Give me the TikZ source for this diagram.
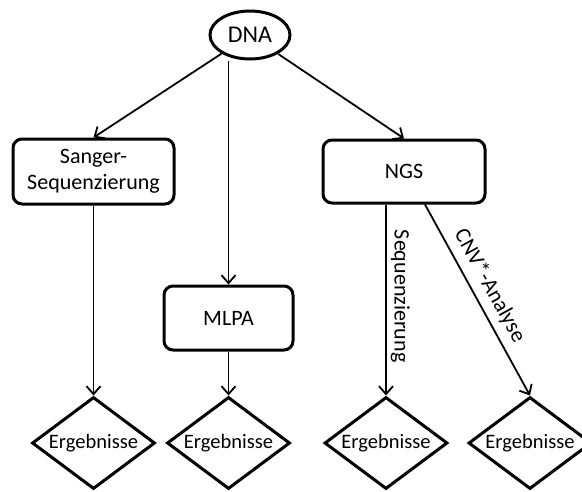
\documentclass[tikz,border=0pt]{standalone}
\usepackage{fontspec}
\setmainfont{Carlito}
\usetikzlibrary{arrows.meta,shapes.geometric}
\tikzset{%
  >={Straight Barb[length=8pt,width=14pt]},
  % Specifications for style of nodes:
          base/.style = {rectangle, rounded corners=9pt, draw=black, line width=3pt,
                         text centered, align=center, font=\fontsize{22}{26}\selectfont},
       dnanode/.style = {ellipse, draw=black, line width=3pt, fill=white,
                         minimum width=80pt, minimum height=48pt, inner sep=0pt,
                         font=\fontsize{24}{28}\selectfont},
     sangerbox/.style = {base, minimum width=161pt, minimum height=65pt},
        ngsbox/.style = {base, minimum width=162pt, minimum height=63pt},
       mlpabox/.style = {base, minimum width=129pt, minimum height=64pt},
        result/.style = {diamond, draw=black, line width=3pt, aspect=1.34,
                         minimum width=123pt, minimum height=92pt, inner sep=0pt,
                         font=\fontsize{20.5}{24}\selectfont},
          flow/.style = {->, line width=1.8pt},
     flowlabel/.style = {sloped, above, inner sep=4pt, font=\fontsize{22}{26}\selectfont}
}
\begin{document}
\begin{tikzpicture}[x=1pt, y=-1pt]
  \useasboundingbox (0,0) rectangle (582,491);
  \node (dna)    [dnanode]   at (250,35)    {DNA};

  \node (sanger) [sangerbox] at (93.5,171.5) {Sanger-\\Sequenzierung};
  \node (ngs)    [ngsbox]    at (404,171.5)  {NGS};
  \node (mlpa)   [mlpabox]   at (228.5,318)  {MLPA};

  \node (res1)   [result]    at (93.5,443)   {Ergebnisse};
  \node (res2)   [result]    at (228.5,443)  {Ergebnisse};
  \node (res3)   [result]    at (386,443)    {Ergebnisse};
  \node (res4)   [result]    at (530,443)    {Ergebnisse};

    \draw[flow]             (dna) -- (sanger.north);
    \draw[flow]             (dna.south -| mlpa.north) -- (mlpa.north);
    \draw[flow]             (dna) -- (ngs.north);
    \draw[flow]             (sanger) -- (res1);
    \draw[flow]             (mlpa) -- (res2);
    \draw[flow]             (ngs.south -| res3.north) -- node[flowlabel, pos=0.48]{Sequenzierung} (res3.north);
    \draw[flow]             ([xshift=21pt]ngs.south) -- node[flowlabel, pos=0.47, inner sep=7pt]{CNV*-Analyse} (res4.north);
\end{tikzpicture}
\end{document}
